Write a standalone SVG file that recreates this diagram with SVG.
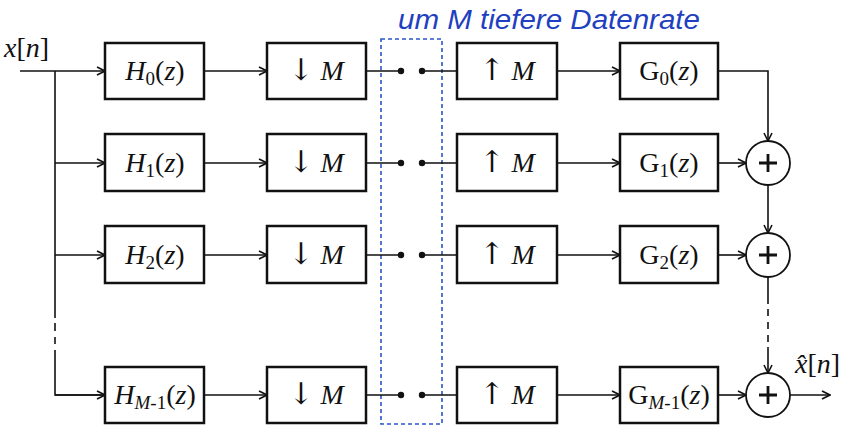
<svg xmlns="http://www.w3.org/2000/svg" width="843" height="431" viewBox="0 0 843 431">
<style>
.box{fill:#fff;stroke:#111;stroke-width:2.5}
.ln{fill:none;stroke:#111;stroke-width:1.6}
.t{font-family:"Liberation Serif","DejaVu Serif",serif;font-size:28px;fill:#111}
.i{font-style:italic}
.sub{font-size:19px}
.sym{font-family:"DejaVu Serif","Liberation Serif",serif;font-size:30px}
.sum{fill:#fff;stroke:#111;stroke-width:1.8}
.plus{stroke:#111;stroke-width:2.8}
.hand{font-family:"Liberation Sans",sans-serif;font-style:italic;font-size:27px;fill:#1f40c0}
</style>
<defs>
<marker id="ar" viewBox="0 0 10 10" refX="9" refY="5" markerWidth="10" markerHeight="10" markerUnits="userSpaceOnUse" orient="auto">
<path d="M1,1 L9,5 L1,9" fill="none" stroke="#111" stroke-width="1.6"/>
</marker>
</defs>
<rect width="843" height="431" fill="#fff"/>
<text class="hand" x="398" y="29" textLength="302" lengthAdjust="spacingAndGlyphs">um M tiefere Datenrate</text>
<rect x="381" y="39" width="61" height="385" fill="none" stroke="#2a55c8" stroke-width="1.6" stroke-dasharray="4 3"/>
<g id="connectors">
<path class="ln" d="M20,71 H105" marker-end="url(#ar)"/>
<path class="ln" d="M55,71 V318 M55,323 V331 M55,337 V344 M55,350 V395 H105" />
<path class="ln" d="M55,395 H105" marker-end="url(#ar)"/>
<path class="ln" d="M55,163 H105" marker-end="url(#ar)"/>
<path class="ln" d="M55,255 H105" marker-end="url(#ar)"/>
<path class="ln" d="M204,71 H267" marker-end="url(#ar)"/>
<path class="ln" d="M204,163 H267" marker-end="url(#ar)"/>
<path class="ln" d="M204,255 H267" marker-end="url(#ar)"/>
<path class="ln" d="M204,395 H267" marker-end="url(#ar)"/>
<path class="ln" d="M366,71 H401 M422,71 H457"/>
<path class="ln" d="M366,163 H401 M422,163 H457"/>
<path class="ln" d="M366,255 H401 M422,255 H457"/>
<path class="ln" d="M366,395 H401 M422,395 H457"/>
<g fill="#111">
<circle cx="401" cy="71" r="3.2"/><circle cx="422" cy="71" r="3.2"/>
<circle cx="401" cy="163" r="3.2"/><circle cx="422" cy="163" r="3.2"/>
<circle cx="401" cy="255" r="3.2"/><circle cx="422" cy="255" r="3.2"/>
<circle cx="401" cy="395" r="3.2"/><circle cx="422" cy="395" r="3.2"/>
</g>
<path class="ln" d="M557,71 H620" marker-end="url(#ar)"/>
<path class="ln" d="M557,163 H620" marker-end="url(#ar)"/>
<path class="ln" d="M557,255 H620" marker-end="url(#ar)"/>
<path class="ln" d="M557,395 H620" marker-end="url(#ar)"/>
<path class="ln" d="M718,71 H768 V141" marker-end="url(#ar)"/>
<path class="ln" d="M718,163 H746" marker-end="url(#ar)"/>
<path class="ln" d="M718,255 H746" marker-end="url(#ar)"/>
<path class="ln" d="M718,395 H746" marker-end="url(#ar)"/>
<path class="ln" d="M768,185 V233" marker-end="url(#ar)"/>
<path class="ln" d="M768,277 V304 M768,309 V316 M768,322 V329 M768,335 V342"/>
<path class="ln" d="M768,347 V373" marker-end="url(#ar)"/>
<path class="ln" d="M790,395 H830" marker-end="url(#ar)"/>
</g>
<text class="t" x="4" y="57" font-size="29"><tspan class="i">x</tspan>[<tspan class="i">n</tspan>]</text>
<text class="t" x="795" y="373" font-size="29"><tspan class="i">x̂</tspan>[<tspan class="i">n</tspan>]</text>
<g id="H0"><rect class="box" x="105" y="43" width="99" height="56"/><text class="t" x="155" y="80" text-anchor="middle"><tspan class="i">H</tspan><tspan class="sub" dy="5">0</tspan><tspan dy="-5">(</tspan><tspan class="i">z</tspan>)</text></g>
<g id="H1"><rect class="box" x="105" y="134" width="99" height="57"/><text class="t" x="155" y="172" text-anchor="middle"><tspan class="i">H</tspan><tspan class="sub" dy="5">1</tspan><tspan dy="-5">(</tspan><tspan class="i">z</tspan>)</text></g>
<g id="H2"><rect class="box" x="105" y="226" width="99" height="57"/><text class="t" x="155" y="264" text-anchor="middle"><tspan class="i">H</tspan><tspan class="sub" dy="5">2</tspan><tspan dy="-5">(</tspan><tspan class="i">z</tspan>)</text></g>
<g id="HM1"><rect class="box" x="105" y="367" width="99" height="56"/><text class="t" x="155" y="404" text-anchor="middle"><tspan class="i">H</tspan><tspan class="sub i" dy="5">M</tspan><tspan class="sub" >-1</tspan><tspan dy="-5">(</tspan><tspan class="i">z</tspan>)</text></g>
<g id="D0"><rect class="box" x="267" y="43" width="99" height="56"/><text class="t" x="316" y="80" text-anchor="middle"><tspan class="sym">↓</tspan> <tspan class="i">M</tspan></text></g>
<g id="D1"><rect class="box" x="267" y="134" width="99" height="57"/><text class="t" x="316" y="172" text-anchor="middle"><tspan class="sym">↓</tspan> <tspan class="i">M</tspan></text></g>
<g id="D2"><rect class="box" x="267" y="226" width="99" height="57"/><text class="t" x="316" y="264" text-anchor="middle"><tspan class="sym">↓</tspan> <tspan class="i">M</tspan></text></g>
<g id="D3"><rect class="box" x="267" y="367" width="99" height="56"/><text class="t" x="316" y="404" text-anchor="middle"><tspan class="sym">↓</tspan> <tspan class="i">M</tspan></text></g>
<g id="U0"><rect class="box" x="457" y="43" width="100" height="56"/><text class="t" x="507" y="80" text-anchor="middle"><tspan class="sym">↑</tspan> <tspan class="i">M</tspan></text></g>
<g id="U1"><rect class="box" x="457" y="134" width="100" height="57"/><text class="t" x="507" y="172" text-anchor="middle"><tspan class="sym">↑</tspan> <tspan class="i">M</tspan></text></g>
<g id="U2"><rect class="box" x="457" y="226" width="100" height="57"/><text class="t" x="507" y="264" text-anchor="middle"><tspan class="sym">↑</tspan> <tspan class="i">M</tspan></text></g>
<g id="U3"><rect class="box" x="457" y="367" width="100" height="56"/><text class="t" x="507" y="404" text-anchor="middle"><tspan class="sym">↑</tspan> <tspan class="i">M</tspan></text></g>
<g id="G0"><rect class="box" x="620" y="43" width="98" height="56"/><text class="t" x="669" y="80" text-anchor="middle">G<tspan class="sub" dy="5">0</tspan><tspan dy="-5">(</tspan><tspan class="i">z</tspan>)</text></g>
<g id="G1"><rect class="box" x="620" y="134" width="98" height="57"/><text class="t" x="669" y="172" text-anchor="middle">G<tspan class="sub" dy="5">1</tspan><tspan dy="-5">(</tspan><tspan class="i">z</tspan>)</text></g>
<g id="G2"><rect class="box" x="620" y="226" width="98" height="57"/><text class="t" x="669" y="264" text-anchor="middle">G<tspan class="sub" dy="5">2</tspan><tspan dy="-5">(</tspan><tspan class="i">z</tspan>)</text></g>
<g id="GM1"><rect class="box" x="620" y="367" width="98" height="56"/><text class="t" x="669" y="404" text-anchor="middle">G<tspan class="sub i" dy="5">M</tspan><tspan class="sub">-1</tspan><tspan dy="-5">(</tspan><tspan class="i">z</tspan>)</text></g>
<g id="S1"><circle class="sum" cx="768" cy="163" r="22"/><path class="plus" d="M759,163 H777 M768,154 V172"/></g>
<g id="S2"><circle class="sum" cx="768" cy="255" r="22"/><path class="plus" d="M759,255 H777 M768,246 V264"/></g>
<g id="S3"><circle class="sum" cx="768" cy="395" r="22"/><path class="plus" d="M759,395 H777 M768,386 V404"/></g>
</svg>
